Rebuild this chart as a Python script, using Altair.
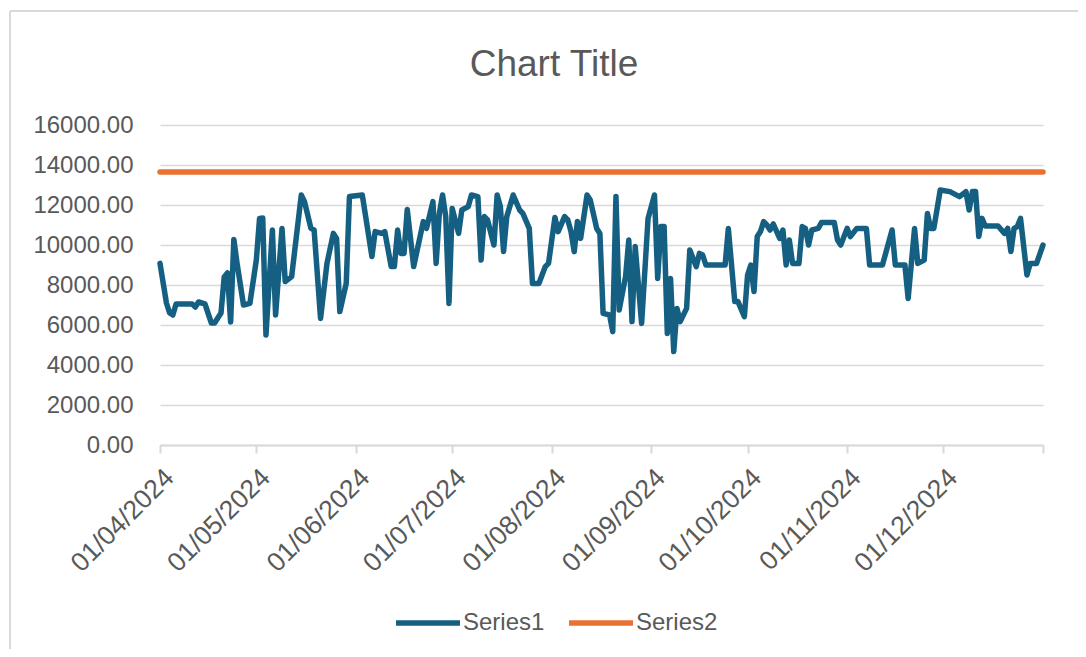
import altair as alt
import pandas as pd

START = "2024-04-01"
series_names = ["Series1", "Series2"]
series_colors = ["#156082", "#E97132"]
y_ticks = [0, 2000, 4000, 6000, 8000, 10000, 12000, 14000, 16000]
month_ticks = ["2024-04-01", "2024-05-01", "2024-06-01", "2024-07-01", "2024-08-01",
               "2024-09-01", "2024-10-01", "2024-11-01", "2024-12-01", "2025-01-01"]
chart_title = "Chart Title"

# Series1: day offset from 01/04/2024 and value
s1_days = [0, 2, 3, 4, 5, 10, 11, 12, 14, 16, 17, 19, 20, 21, 22, 23, 24, 26, 28, 30,
           31, 32, 33, 35, 36, 38, 39, 41, 44, 45, 47, 48, 50, 52, 54, 55, 56, 58, 59, 63,
           66, 67, 69, 70, 72, 73, 74, 75, 76, 77, 79, 82, 83, 85, 86, 87, 88, 89, 90, 91,
           93, 94, 96, 97, 99, 100, 101, 102, 104, 105, 106, 107, 108, 110, 112, 113, 115, 116, 118, 120,
           121, 123, 124, 126, 127, 128, 129, 130, 131, 133, 134, 136, 137, 138, 140, 141, 142, 143, 145, 146,
           147, 148, 150, 152, 154, 155, 156, 157, 158, 159, 160, 161, 162, 164, 165, 167, 168, 169, 170, 176,
           177, 179, 180, 182, 183, 184, 185, 186, 187, 188, 189, 190, 191, 193, 194, 195, 196, 197, 199, 200,
           201, 202, 203, 205, 206, 210, 211, 212, 214, 215, 217, 220, 221, 225, 228, 229, 232, 233, 235, 236,
           238, 239, 240, 241, 243, 246, 249, 251, 252, 253, 254, 255, 256, 257, 261, 263, 264, 265, 266, 267,
           268, 270, 271, 273, 275]
s1_vals = [9080, 7100, 6600, 6500, 7050, 7050, 6900, 7150, 7050, 6100, 6100, 6600, 8400, 8600, 6150, 10280, 9080, 7000, 7080, 9250,
           11330, 11350, 5500, 10750, 6500, 10830, 8170, 8420, 12500, 12170, 10830, 10750, 6330, 9080, 10580, 10330, 6670, 8080, 12420, 12500,
           9420, 10670, 10580, 10670, 8920, 8920, 10750, 9580, 9580, 11780, 8920, 11170, 10830, 12170, 9080, 11580, 12500, 11420, 7080, 11830,
           10580, 11750, 11920, 12500, 12420, 9250, 11420, 11250, 10000, 12500, 11920, 9670, 11420, 12500, 11750, 11580, 10830, 8080, 8080, 8920,
           9080, 11380, 10670, 11420, 11250, 10670, 9670, 11170, 10330, 12500, 12250, 10830, 10580, 6580, 6500, 5670, 12420, 6750, 8420, 10250,
           6170, 9920, 6080, 11330, 12500, 8330, 10920, 10920, 5580, 8330, 4670, 6830, 6170, 6830, 9750, 8920, 9580, 9500, 9000, 9000,
           10830, 7170, 7170, 6420, 8500, 9000, 7670, 10420, 10670, 11170, 11000, 10750, 11050, 10330, 10750, 9000, 10250, 9080, 9080, 10920,
           10830, 10000, 10750, 10830, 11120, 11120, 10250, 10000, 10830, 10420, 10830, 10830, 9000, 9000, 10750, 9000, 9000, 7330, 10830, 9080,
           9250, 11580, 10830, 10830, 12750, 12670, 12420, 12670, 11750, 12670, 12670, 10420, 11330, 10950, 10950, 10580, 10830, 9670, 10830, 10920,
           11330, 8500, 9080, 9080, 10000]

# Series2: constant level
s2_days = [0, 275]
s2_vals = [13650, 13650]

assert len(s1_days) == len(s1_vals)

start = pd.Timestamp(START)
rows = []
for name, days, vals in [("Series1", s1_days, s1_vals), ("Series2", s2_days, s2_vals)]:
    for d, v in zip(days, vals):
        rows.append({"date": (start + pd.Timedelta(days=d)).strftime("%Y-%m-%d"),
                     "value": v, "series": name})
df = pd.DataFrame(rows)

def ms(s):
    return int(pd.Timestamp(s, tz="UTC").timestamp() * 1000)

tick_ms = [ms(s) for s in month_ticks]
last_ms = tick_ms[-1]

FONT = "Liberation Sans"
GRAY = "#595959"
LIGHT = "#d9d9d9"

x_axis = alt.Axis(
    values=tick_ms, title=None, grid=False,
    domain=True, domainColor=LIGHT, domainWidth=2,
    ticks=True, tickColor=LIGHT, tickWidth=2, tickSize=8,
    labelAngle=-45, labelFontSize=26.5, labelColor=GRAY, labelFont=FONT,
    labelPadding=11, labelOverlap=False, labelFlush=False,
    labelExpr=f"datum.value >= {last_ms} ? '' : utcFormat(datum.value, '%d/%m/%Y')",
)
y_axis = alt.Axis(
    values=y_ticks, format=".2f", title=None,
    grid=True, gridColor=LIGHT, gridWidth=1.5,
    domain=False, ticks=False, labelPadding=27,
    labelFontSize=24, labelColor=GRAY, labelFont=FONT,
)

lines = alt.Chart(df).mark_line(strokeWidth=5.5, strokeCap="round", strokeJoin="round").encode(
    x=alt.X("date:T", axis=x_axis,
            scale=alt.Scale(type="utc", domain=[tick_ms[0], last_ms], nice=False)),
    y=alt.Y("value:Q", axis=y_axis, scale=alt.Scale(domain=[0, 16000], nice=False)),
    color=alt.Color("series:N",
                    scale=alt.Scale(domain=series_names, range=series_colors),
                    legend=alt.Legend(
                        orient="none", legendX=233, legendY=463, direction="horizontal",
                        title=None, symbolType="stroke", symbolSize=4096, symbolStrokeWidth=5.5,
                        labelFontSize=24, labelColor=GRAY, labelFont=FONT, labelOffset=0,
                        columnPadding=13, padding=0)),
    order=alt.Order("date:T"),
)

frame_df = pd.DataFrame({"k": [0]})
top_border = alt.Chart(frame_df).mark_rule(color=LIGHT, strokeWidth=2).encode(
    x=alt.value(-150), x2=alt.value(918), y=alt.value(-114))
left_border = alt.Chart(frame_df).mark_rule(color=LIGHT, strokeWidth=2).encode(
    x=alt.value(-150), y=alt.value(-114), y2=alt.value(524))
title_mark = alt.Chart(pd.DataFrame({"t": [chart_title]})).mark_text(
    font=FONT, fontSize=37, color=GRAY, align="center", baseline="alphabetic"
).encode(text="t:N", x=alt.value(394), y=alt.value(-49))

chart = alt.layer(top_border, left_border, title_mark, lines).properties(
    width=883, height=320,
    autosize=alt.AutoSizeParams(type="none"),
    padding={"left": 152, "top": 117, "right": 35, "bottom": 204},
).configure_view(stroke=None)

chart.save("out.html", embed_options={"renderer": "svg", "actions": False})
